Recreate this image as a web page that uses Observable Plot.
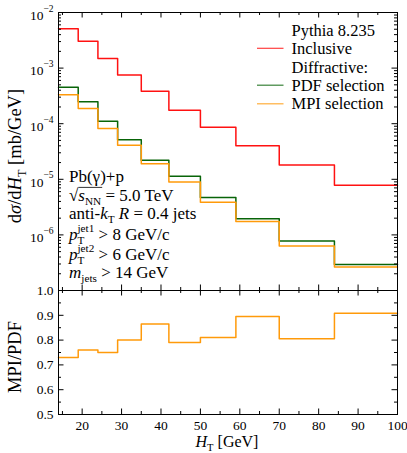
<!DOCTYPE html>
<html><head><meta charset="utf-8">
<script src="https://cdn.jsdelivr.net/npm/d3@7"></script>
<script src="https://cdn.jsdelivr.net/npm/@observablehq/plot@0.6"></script>
<style>
body{margin:0;background:#fff}
#wrap{position:relative;width:407px;height:453px;font-family:"Liberation Serif",serif}
#wrap svg{position:absolute;left:0;top:0;overflow:visible}
</style>
</head><body><div id="wrap"></div>
<script>
// ---- data ----
const edges = [14, 19, 24, 29, 35, 42, 50, 59, 70, 84, 100];
const inclusive = [5.1e-3, 3.05e-3, 1.49e-3, 7.5e-4, 3.85e-4, 1.75e-4, 8.65e-5, 4.0e-5, 1.8e-5, 7.8e-6];
const pdfSelection = [4.54e-4, 2.48e-4, 1.11e-4, 5.13e-5, 2.2e-5, 1.13e-5, 4.71e-6, 1.95e-6, 7.8e-7, 2.94e-7];
const mpiSelection = [3.31e-4, 1.87e-4, 8.2e-5, 4.1e-5, 1.9e-5, 8.9e-6, 3.85e-6, 1.75e-6, 6.3e-7, 2.65e-7];
const ratio = [0.73, 0.76, 0.75, 0.80, 0.865, 0.79, 0.81, 0.895, 0.805, 0.908];
const xMajor = [20, 30, 40, 50, 60, 70, 80, 90, 100];
const xMinor = [15, 25, 35, 45, 55, 65, 75, 85, 95];
const decades = [1e-7, 1e-6, 1e-5, 1e-4, 1e-3, 1e-2];
const decadeLabels = [-6, -5, -4, -3, -2];
const ratioMajor = [0.5, 0.6, 0.7, 0.8, 0.9, 1.0];
const ratioMinor = [0.55, 0.65, 0.75, 0.85, 0.95];

const RED = "#ff1111", GREEN = "#086408", ORANGE = "#ff9a0a";
const FONT = "Liberation Serif";

const logMinor = [];
for (const d of decades.slice(0, -1)) for (let k = 2; k <= 9; k++) logMinor.push(d * k);

function steps(vals) {
  return edges.map((e, i) => ({x: e, y: vals[Math.min(i, vals.length - 1)]}));
}

const W = 407, ML = 58, MR = 10;
const FW = W - ML - MR;
const H1 = 291, MT1 = 12, MB1 = 1, FH1 = H1 - MT1 - MB1;
const H2 = 453, MT2 = 290, MB2 = 39, FH2 = H2 - MT2 - MB2;

function tickRules(xs, ys, fh, majLen, minLen, xsMin, ysMin) {
  return [
    Plot.ruleX(xs, {x: d => d, insetTop: fh - majLen, stroke: "black"}),
    Plot.ruleX(xs, {x: d => d, insetBottom: fh - majLen, stroke: "black"}),
    Plot.ruleX(xsMin, {x: d => d, insetTop: fh - minLen, stroke: "black"}),
    Plot.ruleX(xsMin, {x: d => d, insetBottom: fh - minLen, stroke: "black"}),
    Plot.ruleY(ys, {y: d => d, insetRight: FW - majLen, stroke: "black"}),
    Plot.ruleY(ys, {y: d => d, insetLeft: FW - majLen, stroke: "black"}),
    Plot.ruleY(ysMin, {y: d => d, insetRight: FW - minLen, stroke: "black"}),
    Plot.ruleY(ysMin, {y: d => d, insetLeft: FW - minLen, stroke: "black"})
  ];
}

const upper = Plot.plot({
  width: W, height: H1, marginLeft: ML, marginRight: MR, marginTop: MT1, marginBottom: MB1,
  style: {fontFamily: FONT, fontSize: "13.5px", background: "transparent", color: "black"},
  x: {domain: [14, 100], axis: null},
  y: {type: "log", domain: [1e-7, 1e-2], axis: null},
  marks: [
    Plot.line(steps(inclusive), {x: "x", y: "y", curve: "step-after", stroke: RED, strokeWidth: 1.5}),
    Plot.line(steps(pdfSelection), {x: "x", y: "y", curve: "step-after", stroke: GREEN, strokeWidth: 1.5}),
    Plot.line(steps(mpiSelection), {x: "x", y: "y", curve: "step-after", stroke: ORANGE, strokeWidth: 1.5}),
    ...tickRules(xMajor, decades, FH1, 5.5, 3, xMinor, logMinor),
    Plot.frame({stroke: "black", strokeWidth: 1}),
    Plot.text(decadeLabels, {y: d => Math.pow(10, d), frameAnchor: "left", dx: -15, dy: 3, textAnchor: "end", text: () => "10", fontSize: 13.5}),
    Plot.text(decadeLabels, {y: d => Math.pow(10, d), frameAnchor: "left", dx: -15, dy: -4, textAnchor: "start", text: d => "\u2212" + Math.abs(d), fontSize: 9.5})
  ]
});

const lower = Plot.plot({
  width: W, height: H2, marginLeft: ML, marginRight: MR, marginTop: MT2, marginBottom: MB2,
  style: {fontFamily: FONT, fontSize: "13.5px", background: "transparent", color: "black"},
  x: {domain: [14, 100], axis: null},
  y: {domain: [0.5, 1.0], axis: null},
  marks: [
    Plot.line(steps(ratio), {x: "x", y: "y", curve: "step-after", stroke: ORANGE, strokeWidth: 1.5}),
    ...tickRules(xMajor, ratioMajor, FH2, 5.5, 3, xMinor, ratioMinor),
    Plot.frame({stroke: "black", strokeWidth: 1}),
    Plot.text(xMajor, {x: d => d, frameAnchor: "bottom", lineAnchor: "top", dy: 6, text: d => String(d)}),
    Plot.text(ratioMajor, {y: d => d, frameAnchor: "left", dx: -5, textAnchor: "end", text: d => d.toFixed(1)})
  ]
});

const wrap = document.getElementById("wrap");
wrap.appendChild(upper);
wrap.appendChild(lower);

// ---- rich text helper (sub/superscripts) ----
function rich(parent, x, y, segs, fs, anchor) {
  const g = parent.append("g").attr("font-family", FONT).attr("fill", "black").attr("text-anchor", "start");
  let cx = 0, overStart = null;
  const put = (seg, xx) => {
    const t = g.append("text").attr("x", xx).attr("y", seg.dy || 0)
      .attr("text-anchor", "start")
      .attr("font-size", fs * (seg.s || 1))
      .attr("font-style", seg.i ? "italic" : "normal")
      .text(seg.t);
    return t.node().getComputedTextLength();
  };
  for (const seg of segs) {
    if (seg.overStart) { overStart = cx; continue; }
    if (seg.overEnd) {
      g.append("line").attr("x1", overStart).attr("x2", cx + 1)
        .attr("y1", -fs * 0.8).attr("y2", -fs * 0.8).attr("stroke", "black").attr("stroke-width", 0.8);
      continue;
    }
    if (seg.stack) {
      const w1 = put(seg.stack[0], cx), w2 = put(seg.stack[1], cx);
      cx += Math.max(w1, w2);
    } else {
      cx += put(seg, cx) + (seg.after || 0);
    }
  }
  const off = anchor === "middle" ? -cx / 2 : 0;
  g.attr("transform", `translate(${x + off},${y})`);
  return g;
}

const svg = d3.select(lower);
const FS = 17;
const sub = (t, fs) => ({t, s: 0.66, dy: fs * 0.26});
const sup = (t, fs) => ({t, s: 0.66, dy: -fs * 0.46});

// annotation block
const ax = 69;
rich(svg, ax, 182, [{t: "Pb(\u03b3)+p"}], FS);
rich(svg, ax, 201, [{t: "\u221a"}, {overStart: true}, {t: "s", i: true}, sub("NN", FS), {overEnd: true}, {t: " = 5.0 TeV"}], FS);
rich(svg, ax, 219, [{t: "anti-"}, {t: "k", i: true}, sub("T", FS), {t: " "}, {t: "R", i: true}, {t: " = 0.4 jets"}], FS);
rich(svg, ax, 240, [{t: "p", i: true}, {stack: [sub("T", FS), sup("jet1", FS)]}, {t: " > 8 GeV/c"}], FS);
rich(svg, ax, 260, [{t: "p", i: true}, {stack: [sub("T", FS), sup("jet2", FS)]}, {t: " > 6 GeV/c"}], FS);
rich(svg, ax, 278, [{t: "m", i: true}, sub("jets", FS), {t: " > 14 GeV"}], FS);

// legend
const LS = 16.5;
const lx = 291.5;
const legendRows = [
  {t: "Pythia 8.235", y: 30.7},
  {t: "Inclusive", y: 48.3, c: RED},
  {t: "Diffractive:", y: 67.2},
  {t: "PDF selection", y: 85.2, c: GREEN},
  {t: "MPI selection", y: 103.8, c: ORANGE}
];
for (const r of legendRows) {
  rich(svg, lx, r.y + 5.3, [{t: r.t}], LS);
  if (r.c) svg.append("line").attr("x1", 257).attr("x2", 283.5).attr("y1", r.y).attr("y2", r.y)
    .attr("stroke", r.c).attr("stroke-width", 1.2).attr("opacity", 0.8);
}

// axis titles
const LF = 18.5;
const gy1 = svg.append("g").attr("transform", "translate(21,156) rotate(-90)");
rich(gy1, 0, 0, [{t: "d"}, {t: "\u03c3", i: true}, {t: "/d"}, {t: "H", i: true}, sub("T", LF), {t: " [mb/GeV]"}], LF, "middle");
const gy2 = svg.append("g").attr("transform", "translate(21,357) rotate(-90)");
rich(gy2, 0, 0, [{t: "MPI/PDF"}], LF, "middle");
const XF = 16;
rich(svg, 227, 447, [{t: "H", i: true}, sub("T", XF), {t: " [GeV]"}], XF, "middle");
</script></body></html>
